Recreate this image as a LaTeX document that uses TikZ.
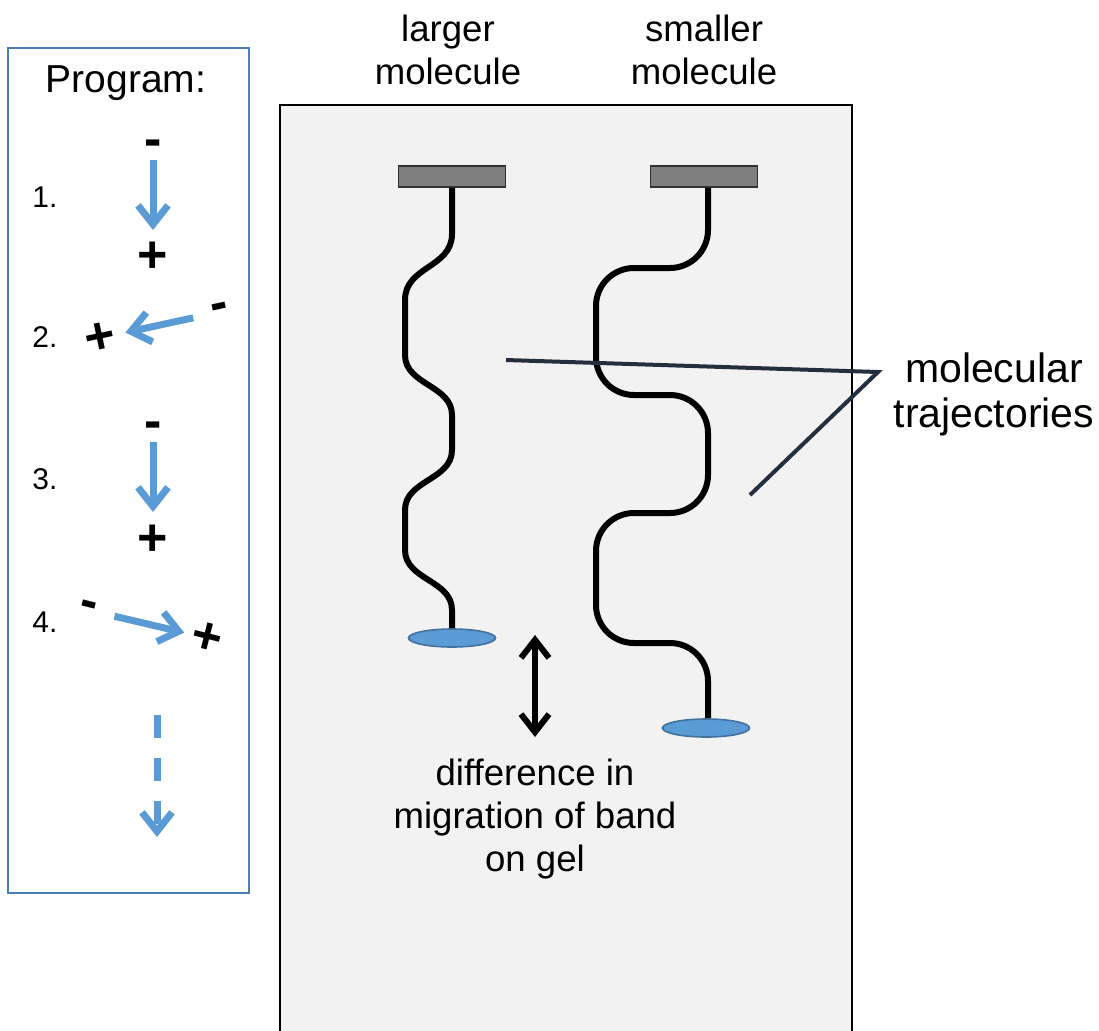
\documentclass[tikz,border=0pt]{standalone}
\usepackage{fontspec}
\setmainfont{Liberation Sans}
\usetikzlibrary{arrows.meta,shapes.geometric,positioning}
\definecolor{arrowblue}{RGB}{91,155,213}
\definecolor{frameblue}{RGB}{74,126,187}
\definecolor{gelfill}{RGB}{242,242,242}
\definecolor{wellfill}{RGB}{127,127,127}
\definecolor{welledge}{RGB}{50,50,50}
\definecolor{bandedge}{RGB}{65,113,156}
\definecolor{ptrnavy}{RGB}{35,47,62}
\tikzset{
    lbl/.style={align=center, inner sep=0pt, font=\fontsize{18.3}{21.5}\selectfont},
    sign/.style={inner sep=0pt, font=\fontsize{26}{26}\selectfont\bfseries},
    stepnum/.style={inner sep=0pt, font=\fontsize{15}{15}\selectfont},
    field/.style={draw=arrowblue, line width=3.5pt, -{Straight Barb[length=9.5pt,width=15pt]}}
}

\begin{document}
\begin{tikzpicture}[x=0.5pt,y=-0.5pt,
well/.style={rectangle,draw=welledge,fill=wellfill,line width=0.8pt,minimum width=53.5pt,minimum height=10.5pt,inner sep=0pt},
band/.style={ellipse,draw=bandedge,fill=arrowblue,line width=0.8pt,minimum width=43.5pt,minimum height=9pt,inner sep=0pt},
traj/.style={line width=3pt},
pointer/.style={draw=ptrnavy, line width=2pt},
gap/.style={line width=3pt, {Straight Barb[length=9pt,width=14pt]}-{Straight Barb[length=9pt,width=14pt]}}]
\useasboundingbox (0,0) rectangle (1099,1030);
\clip (0,0) rectangle (1099,1030);

% program panel
\draw [frameblue, line width=1.3pt] (8,48) rectangle (249,893);
\node [inner sep=0pt, font=\fontsize{19.5}{19.5}\selectfont] (progtitle) at (126,83) {Program:};
\foreach \k/\y in {1/197, 2/337, 3/479, 4/622}
\node [stepnum] (num\k) at (45,\y) {\k.};

\node [sign] (minusA) at (153,148) {-};
\node [sign] (plusA) at (153,257) {+};
\node [sign, rotate=12] (minusB) at (220,312) {-};
\node [sign, rotate=12] (plusB) at (100,338) {+};
\node [sign] (minusC) at (153,430) {-};
\node [sign] (plusC) at (153,540) {+};
\node [sign, rotate=-14] (minusD) at (88,610) {-};
\node [sign, rotate=-14] (plusD) at (207,638) {+};
\draw [field, shorten <=6pt, shorten >=13.5pt] (minusA.center) -- (plusA.center);
\draw [field, shorten <=13.7pt, shorten >=13pt] (minusB.center) -- (plusB.center);
\draw [field, shorten <=6pt, shorten >=14pt] (minusC.center) -- (plusC.center);
\draw [field, shorten <=13.6pt, shorten >=11.7pt] (minusD.center) -- (plusD.center);
\coordinate (contTop) at (157,715);
\coordinate (contBot) at (157,837);
\draw [field, dash pattern=on 11.5pt off 10pt] (contTop) -- (contBot);

% gel
\draw [fill=gelfill, line width=1.2pt] (280,105) rectangle (852,1040);
\node [lbl] (lblL) at (448,50) {larger\\molecule};
\node [lbl] (lblS) at (704,50) {smaller\\molecule};
\node [well] (wellL) at (452,176.5) {};
\node [well] (wellS) at (704,176.5) {};
\node [band] (bandL) at (452,638) {};
\node [band] (bandS) at (706,728) {};

\draw [traj] (wellL.south) -- (452,234) .. controls (452,268) and (405,266) .. (405,300)
  -- (405,355) .. controls (405,385) and (452,385) .. (452,415)
  -- (452,450) .. controls (452,480) and (405,480) .. (405,510)
  -- (405,550) .. controls (405,580) and (452,580) .. (452,610) -- (bandL.north);
\draw [traj, rounded corners=19pt] ([xshift=2pt]wellS.south) -- (708,268) -- (596,268) -- (596,395)
  -- (708,395) -- (708,513) -- (596,513) -- (596,643) -- (708,643) -- ([xshift=1pt]bandS.north);

\coordinate (gapTop) at (535,635);
\coordinate (gapBot) at (535,737);
\draw [gap] (gapTop) -- (gapBot);
\node [lbl, below=11pt of gapBot] (diffnote) {difference in\\migration of band\\on gel};

\node [lbl, font=\fontsize{20.5}{22.5}\selectfont] (trajnote) at (994,394) {molecular\\trajectories};
\coordinate (apex) at (878,372);
\coordinate (ptrL) at (506,360);
\coordinate (ptrS) at (750,495);
\draw [pointer] (ptrL) -- (apex) -- (ptrS);
\end{tikzpicture}
\end{document}
